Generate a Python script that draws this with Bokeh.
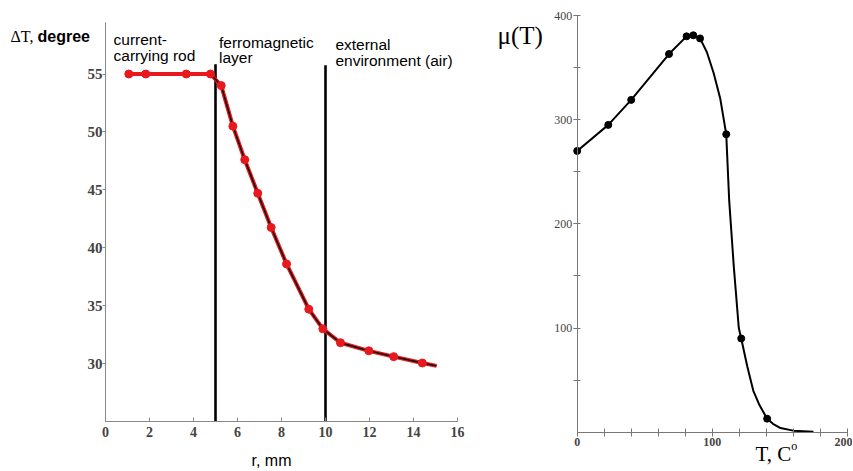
from bokeh.plotting import figure
from bokeh.layouts import row
from bokeh.models import Label, FixedTicker, Range1d
from bokeh.embed import file_html
from bokeh.resources import INLINE

# ---- left chart data: temperature rise vs radius ----
r_mm = [1.06, 1.83, 3.67, 4.77, 5.26, 5.79, 6.33, 6.92, 7.53, 8.23, 9.24, 9.88, 10.68, 11.97, 13.1, 14.4]
dT = [55.0, 55.0, 55.0, 55.0, 54.0, 50.5, 47.6, 44.7, 41.75, 38.6, 34.7, 33.0, 31.8, 31.1, 30.6, 30.05]
r_end = [15.05]
dT_end = [29.8]
boundaries = [5, 10]
boundary_top = [55.85, 55.75]
boundary_bottom = [25, 25]
r_ticks = [0, 2, 4, 6, 8, 10, 12, 14, 16]
dT_ticks = [30, 35, 40, 45, 50, 55]

# ---- right chart data: permeability vs temperature ----
T_marks = [0, 23, 40, 68, 81, 86, 91, 110.4, 121.5, 140.7]
mu_marks = [270, 295, 319, 363, 380, 381, 378, 286, 90, 13]
T_curve = [0, 23, 40, 68, 81, 86, 91, 96, 101, 106, 110.4, 112.6, 116, 119.7, 121.5,
           126, 130.4, 135, 140.7, 145, 150.6, 160, 175]
mu_curve = [270, 295, 319, 363, 380, 381, 378, 365, 345, 320, 286, 222, 159, 100, 90,
            63, 40, 26, 13, 8, 4, 1.5, 0.5]
T_ticks = [0, 100, 200]
T_minor = [20, 40, 60, 80, 120, 140, 160, 180]
mu_ticks = [100, 200, 300, 400]
mu_minor = [50, 150, 250, 350]

RED = "#e8191e"
SERIF = "Liberation Serif"
SANS = "Liberation Sans"
H = 471


def lab(p, x, y, t, font, size, style="normal", align="left"):
    p.add_layout(Label(x=x, y=y, text=t, text_font=font, text_font_size=size,
                       text_font_style=style, text_align=align, text_baseline="alphabetic",
                       text_color="black"))


# ================= left figure =================
W1 = 470
p1 = figure(width=W1, height=H, output_backend="svg", toolbar_location=None,
            x_range=Range1d(-105 / 22, (W1 - 105) / 22),
            y_range=Range1d(25 - (H - 421) / 11.5833, 25 + 421 / 11.5833),
            min_border=0)
p1.outline_line_color = None
p1.grid.visible = False

p1.segment(x0=boundaries, y0=boundary_bottom, x1=boundaries, y1=boundary_top,
           line_color="black", line_width=2.6)
p1.line(r_mm + r_end, dT + dT_end, line_color=RED, line_width=4)
p1.line(r_mm[3:] + r_end, dT[3:] + dT_end, line_color="black", line_width=1.4)
p1.scatter(r_mm, dT, size=8, fill_color=RED, line_color=RED)

xa = p1.xaxis[0]
xa.fixed_location = 25
xa.bounds = (0, 16)
xa.ticker = FixedTicker(ticks=r_ticks)
xa.axis_line_color = "#888888"
xa.major_tick_line_color = "#888888"
xa.major_tick_in = 4
xa.major_tick_out = 0
xa.minor_tick_line_color = None
xa.major_label_text_font = SERIF
xa.major_label_text_font_style = "bold"
xa.major_label_text_font_size = "14px"
xa.major_label_standoff = 5

ya = p1.yaxis[0]
ya.fixed_location = 0
ya.bounds = (25, 59.45)
ya.ticker = FixedTicker(ticks=dT_ticks)
ya.axis_line_color = "#888888"
ya.major_tick_line_color = "#888888"
ya.major_tick_in = 0
ya.major_tick_out = 3
ya.minor_tick_line_color = None
ya.major_label_text_font = SERIF
ya.major_label_text_font_style = "bold"
ya.major_label_text_font_size = "15px"
ya.major_label_standoff = 0

lab(p1, -4.318, 58.24, "ΔT,", SERIF, "16px")
lab(p1, -3.09, 58.24, "degree", SANS, "16px", "bold")
lab(p1, 0.364, 57.94, "current-", SANS, "15.5px")
lab(p1, 0.364, 56.6, "carrying rod", SANS, "15.5px")
lab(p1, 5.16, 57.75, "ferromagnetic", SANS, "15.5px")
lab(p1, 5.16, 56.4, "layer", SANS, "15.5px")
lab(p1, 10.45, 57.55, "external", SANS, "15.5px")
lab(p1, 10.45, 56.17, "environment (air)", SANS, "15.5px")
lab(p1, 7.545, 21.65, "r, mm", SANS, "16px", align="center")

# ================= right figure =================
W2 = 382
X0 = 576.7 - W1      # screen position of T = 0 inside this canvas
SX = 1.35            # px per degree
SY = 416.7 / 400     # px per mu unit
p2 = figure(width=W2, height=H, output_backend="svg", toolbar_location=None,
            x_range=Range1d(-X0 / SX, (W2 - X0) / SX),
            y_range=Range1d(-(H - 431.7) / SY, 400 + 15 / SY),
            min_border=0)
p2.outline_line_color = None
p2.grid.visible = False

p2.line(T_curve, mu_curve, line_color="black", line_width=2)
p2.scatter(T_marks, mu_marks, size=7, fill_color="black", line_color="black")

xa2 = p2.xaxis[0]
xa2.fixed_location = 0
xa2.bounds = (0, 200)
xa2.ticker = FixedTicker(ticks=T_ticks, minor_ticks=T_minor)
xa2.axis_line_color = "#777777"
xa2.major_tick_line_color = "#777777"
xa2.minor_tick_line_color = "#777777"
xa2.major_tick_in = 4
xa2.major_tick_out = 4
xa2.minor_tick_in = 4
xa2.minor_tick_out = 4
xa2.major_label_text_font = SERIF
xa2.major_label_text_font_style = "bold"
xa2.major_label_text_font_size = "12px"
xa2.major_label_standoff = 2

ya2 = p2.yaxis[0]
ya2.fixed_location = 0
ya2.bounds = (0, 400)
ya2.ticker = FixedTicker(ticks=mu_ticks, minor_ticks=mu_minor)
ya2.axis_line_color = "#777777"
ya2.major_tick_line_color = "#777777"
ya2.minor_tick_line_color = "#777777"
ya2.major_tick_in = 3
ya2.major_tick_out = 4
ya2.minor_tick_in = 3
ya2.minor_tick_out = 4
ya2.major_label_text_font = SERIF
ya2.major_label_text_font_size = "12px"
ya2.major_label_standoff = 1

lab(p2, -59.0, 380.8, "μ(T)", SERIF, "25px")
lab(p2, 132.1, -20.45, "T, C", SERIF, "21px")
lab(p2, 158.5, -13.0, "o", SERIF, "12px")

layout = row(p1, p2)
open("out.html", "w").write(file_html(layout, INLINE))
